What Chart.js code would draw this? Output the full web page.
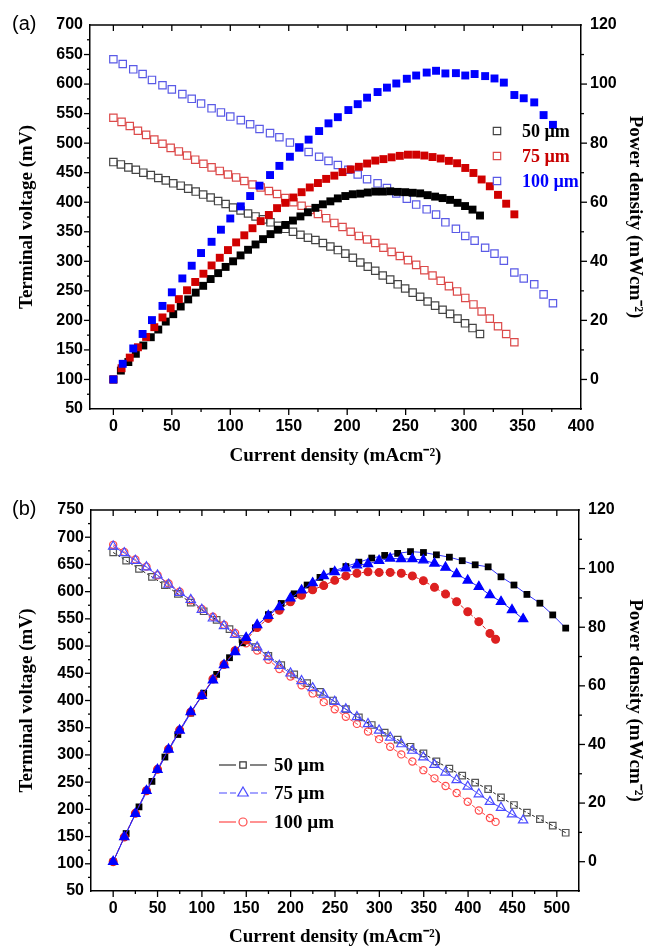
<!DOCTYPE html>
<html>
<head>
<meta charset="utf-8">
<script src="https://cdn.jsdelivr.net/npm/chart.js@4.4.1/dist/chart.umd.min.js"></script>
<style>
  body { margin: 0; background: #fff; width: 649px; height: 949px; position: relative; overflow: hidden; }
  .box { position: absolute; left: 0; width: 649px; }
  #boxA { top: 0; height: 470px; }
  #boxB { top: 470px; height: 479px; }
  .tag { position: absolute; left: 12px; font: 20px "Liberation Sans", Arial, sans-serif; color: #000; }
</style>
</head>
<body>
<div class="box" id="boxA"><canvas id="chartA"></canvas></div>
<div class="box" id="boxB"><canvas id="chartB"></canvas></div>
<div class="tag" style="top:12px">(a)</div>
<div class="tag" style="top:497px">(b)</div>
<script>
// ---- panel (a) data ----
const curA50 = [0,6.4,12.8,19.2,25.6,32,38.4,44.8,51.2,57.6,64,70.4,76.8,83.2,89.6,96,102.4,108.8,115.2,121.6,128,134.4,140.8,147.2,153.6,160,166.4,172.8,179.2,185.6,192,198.4,204.8,211.2,217.6,224,230.4,236.8,243.2,249.6,256,262.4,268.8,275.2,281.6,288,294.4,300.8,307.2,313.6];
const voltA50 = [468,464,459,455,450,446,441,437,432,428,423,418,413,408,402,397,391,386,381,376,371,366,360,355,350,345,340,336,331,325,319,313,306,298,291,284,276,269,261,254,247,240,232,225,218,211,203,195,187,177];
const powerA50 = [0,3.0,5.9,8.7,11.5,14.3,16.9,19.6,22.1,24.7,27.1,29.4,31.7,34.0,36.0,38.1,40.0,42.0,43.9,45.7,47.5,49.2,50.7,52.3,53.8,55.2,56.6,58.1,59.3,60.3,61.3,62.1,62.7,62.9,63.3,63.6,63.6,63.7,63.5,63.4,63.2,63.0,62.4,61.9,61.4,60.8,59.8,58.7,57.5,55.5];

const curA75 = [0,7,14,21,28,35,42,49,56,63,70,77,84,91,98,105,112,119,126,133,140,147,154,161,168,175,182,189,196,203,210,217,224,231,238,245,252,259,266,273,280,287,294,301,308,315,322,329,336,343];
const voltA75 = [543,536,529,521,514,506,499,492,486,479,472,465,459,453,447,442,436,430,425,419,414,407,400,394,387,380,373,365,358,350,343,337,331,323,316,309,302,294,285,276,267,258,249,238,227,215,203,190,177,163];
const powerA75 = [0,3.8,7.4,10.9,14.4,17.7,21.0,24.1,27.2,30.2,33.0,35.8,38.6,41.2,43.8,46.4,48.8,51.2,53.6,55.7,58.0,59.8,61.6,63.4,65.0,66.5,67.9,69.0,70.2,71.1,72.0,73.1,74.1,74.6,75.2,75.7,76.1,76.1,75.8,75.3,74.8,74.0,73.2,71.6,69.9,67.7,65.4,62.5,59.5,55.9];

const curA100 = [0,8,17,25,33,42,50,59,67,75,84,92,100,109,117,125,134,142,151,159,167,176,184,192,201,209,217,226,234,242,251,259,268,276,284,293,301,309,318,326,334,343,351,360,368,376];
const voltA100 = [642,634,625,617,607,598,591,583,575,567,559,552,545,539,532,524,517,510,501,493,485,477,470,463,455,447,439,432,424,415,406,396,388,379,366,355,343,335,323,313,301,281,271,261,244,229];
const powerA100 = [0,5.3,10.5,15.4,20.1,24.9,29.5,34.2,38.5,42.8,46.6,50.7,54.5,58.6,62.1,65.6,69.2,72.3,75.4,78.5,81.2,84.1,86.7,88.8,91.2,93.2,95.4,97.3,98.8,100.2,101.8,102.9,103.9,104.5,103.6,103.7,102.9,103.4,102.7,101.9,100.5,96.3,95.2,93.8,89.5,86.2];

// ---- panel (b) data ----
const curB50 = [0,14.6,29.1,43.7,58.3,72.9,87.4,102,116.6,131.1,145.7,160.3,174.9,189.4,204,218.6,233.1,247.7,262.3,276.9,291.4,306,320.6,335.1,349.7,364.3,378.9,393.4,408,422.6,437.1,451.7,466.3,480.9,495.4,510];
const voltB50 = [672,657,642,627,612,596,580,564,548,531,513,498,482,465,448,432,416,400,384,369,355,341,328,315,303,288,275,262,249,237,222,208,194,182,170,157];
const powerB50 = [0,9.6,18.7,27.4,35.7,43.4,50.7,57.5,63.9,69.6,74.7,79.8,84.3,88.1,91.4,94.4,97.0,99.1,100.7,102.2,103.6,104.5,105.2,105.8,105.5,104.7,103.9,102.7,101.3,100.6,97.2,94.4,91.2,88.2,84.2,79.7];

const curB75 = [0,12.5,25,37.5,49.9,62.4,74.9,87.4,99.9,112.4,124.9,137.4,149.8,162.3,174.8,187.3,199.8,212.3,224.8,237.3,249.7,262.2,274.7,287.2,299.7,312.2,324.7,337.2,349.6,362.1,374.6,387.1,399.6,412.1,424.6,437.1,449.5,462];
const voltB75 = [683,671,657,645,630,613,598,585,567,551,537,521,510,498,480,464,450,436,423,411,398,384,370,357,345,332,320,308,296,282,268,254,242,228,214,203,191,180];
const powerB75 = [0,8.4,16.4,24.2,31.4,38.3,44.8,51.1,56.6,61.9,67.1,71.6,76.4,80.8,83.9,86.9,89.9,92.6,95.1,97.5,98.9,100.1,101.2,101.6,102.7,103.5,103.3,103.3,102.9,101.8,100.4,98.2,96.0,93.8,91.0,88.7,85.9,82.8];

const curB100 = [0,12.5,25,37.5,50,62.4,74.9,87.4,99.9,112.4,124.9,137.4,149.8,162.3,174.8,187.3,199.8,212.3,224.8,237.3,249.7,262.2,274.7,287.2,299.7,312.2,324.7,337.2,349.6,362.1,374.6,387.1,399.6,412.1,424.6,431];
const voltB100 = [686,673,659,646,630,615,600,584,568,554,539,524,505,492,475,458,444,428,413,397,384,370,357,343,329,315,301,288,272,257,243,230,214,198,184,177];
const powerB100 = [0,8.4,16.5,24.2,31.5,38.4,44.9,51.0,56.7,62.3,67.3,72.0,75.6,79.9,83.0,85.8,88.7,90.9,92.8,94.2,96.0,97.5,98.4,98.9,98.7,98.7,98.4,97.5,95.9,93.6,91.3,88.7,85.3,81.9,77.9,75.9];

// ---- ticks / labels ----
const xTicksA = [0,50,100,150,200,250,300,350,400];
const xTicksB = [0,50,100,150,200,250,300,350,400,450,500];
const voltTicksA = [50,100,150,200,250,300,350,400,450,500,550,600,650,700];
const voltTicksB = [50,100,150,200,250,300,350,400,450,500,550,600,650,700,750];
const powerTicks = [0,20,40,60,80,100,120];
const seriesNames = ['50 µm','75 µm','100 µm'];

const xTitle = 'Current density (mAcm⁻²)';
const yTitle = 'Terminal voltage (mV)';
const y2Title = 'Power density (mWcm⁻²)';

const tickFont = { family: '"Liberation Sans", Arial, sans-serif', size: 16, weight: 'bold' };
const titleFont = { family: '"Liberation Serif", "Times New Roman", serif', size: 19, weight: 'bold' };

function pts(xs, ys){
  return xs.map((x, i) => ({ x: x, y: ys[i] }));
}

// frame top line, minor/major ticks and the in-plot legend
const frameTicks = {
  id: 'frameTicks',
  afterDraw(chart, args, o){
    const { ctx, chartArea: a, scales } = chart;
    ctx.save();
    ctx.strokeStyle = '#000';
    ctx.lineWidth = 1.5;
    ctx.beginPath();
    ctx.moveTo(a.left - 0.75, a.top);
    ctx.lineTo(a.right + 0.75, a.top);
    ctx.stroke();

    ctx.lineWidth = 1.3;
    const seg = (x1, y1, x2, y2) => { ctx.beginPath(); ctx.moveTo(x1, y1); ctx.lineTo(x2, y2); ctx.stroke(); };
    const each = (scale, step, fn) => {
      const start = Math.ceil(scale.min / step) * step;
      for(let v = start; v <= scale.max + 1e-9; v += step){
        const p = scale.getPixelForValue(v);
        const major = Math.abs(v / (2 * step) - Math.round(v / (2 * step))) < 1e-6;
        fn(p, major ? 6 : 3);
      }
    };
    each(scales.x, o.xStep, (p, len) => {
      if(p < a.left + 1 || p > a.right - 1) return;
      seg(p, a.bottom, p, a.bottom + len);
      seg(p, a.top, p, a.top + len);
    });
    each(scales.y, o.yStep, (p, len) => {
      if(p < a.top + 1 || p > a.bottom - 1) return;
      seg(a.left, p, a.left - len, p);
    });
    each(scales.y2, o.y2Step, (p, len) => {
      if(p < a.top + 1 || p > a.bottom - 1) return;
      seg(a.right, p, a.right + len, p);
    });

    // legend
    const L = o.legend;
    ctx.textBaseline = 'middle';
    ctx.textAlign = 'left';
    ctx.font = 'bold ' + L.size + 'px "Liberation Serif", "Times New Roman", serif';
    L.rows.forEach((r, i) => {
      const y = L.ys[i];
      ctx.strokeStyle = r.color;
      ctx.lineWidth = 1.2;
      if(L.lines){
        ctx.setLineDash(r.dash || []);
        seg(L.mx - 24, y, L.mx - 7, y);
        seg(L.mx + 7, y, L.mx + 24, y);
        ctx.setLineDash([]);
      }
      ctx.beginPath();
      if(r.shape === 'rect'){
        ctx.rect(L.mx - r.s, y - r.s, 2 * r.s, 2 * r.s);
      } else if(r.shape === 'triangle'){
        ctx.moveTo(L.mx, y - r.s);
        ctx.lineTo(L.mx + r.s * 0.87, y + r.s * 0.5);
        ctx.lineTo(L.mx - r.s * 0.87, y + r.s * 0.5);
        ctx.closePath();
      } else {
        ctx.arc(L.mx, y, r.s, 0, Math.PI * 2);
      }
      ctx.stroke();
      ctx.fillStyle = r.text;
      ctx.fillText(seriesNames[i], L.tx, y + 1);
    });
    ctx.restore();
  }
};

function axes(xMin, xMax, xTicks, yMin, yMax, yTicks, sizes){
  const common = {
    type: 'linear',
    grid: { display: true, drawOnChartArea: false, drawTicks: false },
    border: { display: true, color: '#000', width: 1.5 }
  };
  return {
    x: Object.assign({}, common, {
      position: 'bottom', min: xMin, max: xMax,
      afterBuildTicks: ax => { ax.ticks = xTicks.map(v => ({ value: v })); },
      afterFit: s => { s.height = sizes.bottom; },
      ticks: { font: tickFont, color: '#000', padding: 8, maxRotation: 0 },
      title: { display: true, text: xTitle, font: titleFont, color: '#000', padding: { top: 0, bottom: sizes.xTitlePad } }
    }),
    y: Object.assign({}, common, {
      position: 'left', min: yMin, max: yMax,
      afterBuildTicks: ax => { ax.ticks = yTicks.map(v => ({ value: v })); },
      afterFit: s => { s.width = sizes.left; },
      ticks: { font: tickFont, color: '#000', padding: 7 },
      title: { display: true, text: yTitle, font: titleFont, color: '#000', padding: { top: 16, bottom: 0 } }
    }),
    y2: Object.assign({}, common, {
      position: 'right', min: -10, max: 120,
      afterBuildTicks: ax => { ax.ticks = powerTicks.map(v => ({ value: v })); },
      afterFit: s => { s.width = sizes.right; },
      ticks: { font: tickFont, color: '#000', padding: 9 },
      title: { display: true, text: y2Title, font: titleFont, color: '#000', padding: { top: 3, bottom: 0 } }
    })
  };
}

function ds(xs, ys, axis, st){
  return Object.assign({
    data: pts(xs, ys),
    yAxisID: axis,
    showLine: false,
    pointBorderWidth: 1.2,
    borderWidth: 1
  }, st);
}

const closed = 'rgba(0,0,0,0)';

// ---- chart (a) ----
new Chart(document.getElementById('chartA'), {
  type: 'scatter',
  data: {
    datasets: [
      ds(curA100, powerA100, 'y2', { pointStyle: 'rect', pointRadius: 5.6, pointBackgroundColor: '#0000ff', pointBorderColor: '#0000ff', pointBorderWidth: 0 }),
      ds(curA75, powerA75, 'y2', { pointStyle: 'rect', pointRadius: 5.6, pointBackgroundColor: '#d00000', pointBorderColor: '#d00000', pointBorderWidth: 0 }),
      ds(curA50, powerA50, 'y2', { pointStyle: 'rect', pointRadius: 5.6, pointBackgroundColor: '#000', pointBorderColor: '#000', pointBorderWidth: 0 }),
      ds(curA100, voltA100, 'y', { pointStyle: 'rect', pointRadius: 5.2, pointBackgroundColor: closed, pointBorderColor: '#5a5ae6' }),
      ds(curA75, voltA75, 'y', { pointStyle: 'rect', pointRadius: 5.2, pointBackgroundColor: closed, pointBorderColor: '#dc4a4a' }),
      ds(curA50, voltA50, 'y', { pointStyle: 'rect', pointRadius: 5.2, pointBackgroundColor: closed, pointBorderColor: '#444' })
    ]
  },
  options: {
    responsive: true,
    maintainAspectRatio: false,
    animation: false,
    events: [],
    layout: { padding: { top: 25, left: 0, right: 0, bottom: 0 } },
    scales: axes(-20, 400, xTicksA, 50, 700, voltTicksA, { left: 90, right: 68, bottom: 61, xTitlePad: 3 }),
    plugins: {
      legend: { display: false },
      tooltip: { enabled: false },
      frameTicks: {
        xStep: 25, yStep: 25, y2Step: 10,
        legend: {
          mx: 497, tx: 522, size: 18, lines: false,
          ys: [131, 156, 181],
          rows: [
            { shape: 'rect', s: 3.7, color: '#444', text: '#000' },
            { shape: 'rect', s: 3.7, color: '#dc4a4a', text: '#c80000' },
            { shape: 'rect', s: 3.7, color: '#5a5ae6', text: '#0000ff' }
          ]
        }
      }
    }
  },
  plugins: [frameTicks]
});

// ---- chart (b) ----
new Chart(document.getElementById('chartB'), {
  type: 'scatter',
  data: {
    datasets: [
      ds(curB75, powerB75, 'y2', { showLine: true, borderColor: '#2020ff', pointStyle: 'triangle', pointRadius: 5.4, pointBackgroundColor: '#0000ff', pointBorderColor: '#0000ff' }),
      ds(curB100, powerB100, 'y2', { showLine: true, borderColor: '#dd2222', borderDash: [4, 2], pointStyle: 'circle', pointRadius: 3.9, pointBackgroundColor: '#dd2020', pointBorderColor: '#dd2020' }),
      ds(curB50, powerB50, 'y2', { showLine: true, borderColor: '#3030ff', pointStyle: 'rect', pointRadius: 4.8, pointBackgroundColor: '#000', pointBorderColor: '#000', pointBorderWidth: 0 }),
      ds(curB75, voltB75, 'y', { showLine: true, borderColor: '#4b4bff', pointStyle: 'triangle', pointRadius: 5.4, pointBackgroundColor: closed, pointBorderColor: '#4b4bff' }),
      ds(curB100, voltB100, 'y', { showLine: true, borderColor: '#ff4a4a', borderDash: [4, 2], pointStyle: 'circle', pointRadius: 3.6, pointBackgroundColor: closed, pointBorderColor: '#ff4a4a' }),
      ds(curB50, voltB50, 'y', { showLine: true, borderColor: '#222', borderDash: [3, 2], pointStyle: 'rect', pointRadius: 4.6, pointBackgroundColor: closed, pointBorderColor: '#555' })
    ]
  },
  options: {
    responsive: true,
    maintainAspectRatio: false,
    animation: false,
    events: [],
    layout: { padding: { top: 40, left: 0, right: 0, bottom: 0 } },
    scales: axes(-25, 525, xTicksB, 50, 750, voltTicksB, { left: 91, right: 70, bottom: 58, xTitlePad: 1 }),
    plugins: {
      legend: { display: false },
      tooltip: { enabled: false },
      frameTicks: {
        xStep: 25, yStep: 25, y2Step: 10,
        legend: {
          mx: 243, tx: 274, size: 19, lines: true,
          ys: [295, 323, 352],
          rows: [
            { shape: 'rect', s: 3.2, color: '#333', text: '#000', dash: [] },
            { shape: 'triangle', s: 6, color: '#4b4bff', text: '#000', dash: [8, 3] },
            { shape: 'circle', s: 4, color: '#ff4a4a', text: '#000', dash: [] }
          ]
        }
      }
    }
  },
  plugins: [frameTicks]
});
</script>
</body>
</html>
